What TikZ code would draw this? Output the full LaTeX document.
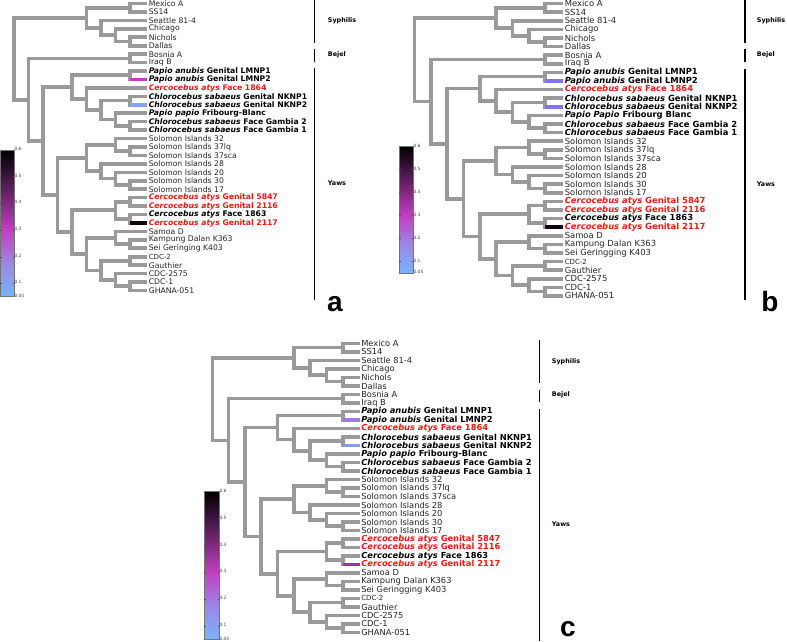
\documentclass[tikz,border=0pt]{standalone}
\usepackage{fontspec}
\setmainfont{DejaVu Sans}
\newfontfamily\letterfont{Liberation Sans}
\usetikzlibrary{calc}

\definecolor{branchgray}{RGB}{154,154,154}
\definecolor{cerred}{RGB}{240,24,24}
\definecolor{cblow}{RGB}{120,180,248}
\definecolor{cblav}{RGB}{155,135,228}
\definecolor{cbmag}{RGB}{192,64,192}
\definecolor{cbdark}{RGB}{96,32,96}

\tikzset{
  branch/.style={draw=branchgray, line width=3.6pt, line join=miter},
  leaf/.style={anchor=west, inner xsep=1.6pt, inner ysep=0pt, font=\fontsize{\lfs}{9}\selectfont},
  nrm/.style={text=black!85},
  mky/.style={font=\fontsize{\lfs}{9}\selectfont\bfseries},
  cer/.style={mky, text=cerred},
  cdcsmall/.style={font=\fontsize{7}{8}\selectfont, text=black!85},
  cladebar/.style={draw=black, line width=1.1pt},
  cladelab/.style={anchor=west, inner sep=0pt, font=\fontsize{6.4}{7}\selectfont\bfseries},
  panellab/.style={inner sep=0pt, font=\letterfont\fontsize{28}{28}\selectfont\bfseries},
  cbtick/.style={draw=black!70, line width=0.4pt},
  cblab/.style={anchor=west, inner sep=0.3pt, font=\fontsize{4.4}{5}\selectfont, text=black!75},
}

\newcommand{\spc}[1]{\textit{#1}}

% one clade: name, level, two children
\newcommand{\clade}[4]{%
  \path ($(\pfx-#3)!0.5!(\pfx-#4)$) coordinate (\pfx-tmp);
  \coordinate (\pfx-#1) at (\pfx-lv#2 |- \pfx-tmp);
  \draw[branch] (\pfx-#1) |- (\pfx-#3);
  \draw[branch] (\pfx-#1) |- (\pfx-#4);
}

% prefix, level-1 x, level step, tip x, first y, y step, three branch colours
\newcommand{\paneltree}[9]{%
  \def\pfx{#1}
  \foreach \h in {1,...,9} \coordinate (\pfx-lv\h) at ({#2-(\h-1)*#3},0);
  \foreach \sty/\lab [count=\i from 0] in {
    nrm/Mexico A, nrm/SS14, nrm/Seattle 81-4, nrm/Chicago, nrm/Nichols, nrm/Dallas,
    nrm/Bosnia A, nrm/Iraq B,
    mky/{\spc{Papio anubis} Genital LMNP1}, mky/{\spc{Papio anubis} Genital LMNP2},
    cer/{\spc{Cercocebus atys} Face 1864},
    mky/{\spc{Chlorocebus sabaeus} Genital NKNP1}, mky/{\spc{Chlorocebus sabaeus} Genital NKNP2},
    mky/\papiolab,
    mky/{\spc{Chlorocebus sabaeus} Face Gambia 2}, mky/{\spc{Chlorocebus sabaeus} Face Gambia 1},
    nrm/Solomon Islands 32, nrm/Solomon Islands 37lq, nrm/Solomon Islands 37sca,
    nrm/Solomon Islands 28, nrm/Solomon Islands 20, nrm/Solomon Islands 30, nrm/Solomon Islands 17,
    cer/{\spc{Cercocebus atys} Genital 5847}, cer/{\spc{Cercocebus atys} Genital 2116},
    mky/{\spc{Cercocebus atys} Face 1863}, cer/{\spc{Cercocebus atys} Genital 2117},
    nrm/Samoa D, nrm/Kampung Dalan K363, nrm/\seilab,
    cdcsmall/CDC-2, nrm/Gauthier, nrm/CDC-2575, nrm/CDC-1, nrm/GHANA-051}
    \node[leaf,\sty] (\pfx-L\i) at (#4,{#5+#6*\i}) {\lab};
  % syphilis and bejel
  \clade{ms}{1}{L0}{L1}
  \clade{nd}{1}{L4}{L5}
  \clade{cnd}{2}{L3}{nd}
  \clade{snd}{3}{L2}{cnd}
  \clade{syp}{4}{ms}{snd}
  \clade{bi}{1}{L6}{L7}
  % monkey strains
  \clade{pa}{1}{L8}{L9}
  \clade{nk}{1}{L11}{L12}
  \clade{gg}{1}{L14}{L15}
  \clade{pg}{2}{L13}{gg}
  \clade{chl}{3}{nk}{pg}
  \clade{c64}{4}{L10}{chl}
  \clade{mon}{5}{pa}{c64}
  % solomon islands
  \clade{s37}{1}{L17}{L18}
  \clade{s32}{2}{L16}{s37}
  \clade{s30}{1}{L21}{L22}
  \clade{s20}{2}{L20}{s30}
  \clade{s28}{3}{L19}{s20}
  \clade{sol}{4}{s32}{s28}
  % cercocebus and the rest
  \clade{ca}{1}{L23}{L24}
  \clade{cb}{1}{L25}{L26}
  \clade{cer}{2}{ca}{cb}
  \clade{ks}{1}{L28}{L29}
  \clade{sam}{2}{L27}{ks}
  \clade{cg}{1}{L30}{L31}
  \clade{c1}{1}{L33}{L34}
  \clade{c25}{2}{L32}{c1}
  \clade{cdc}{3}{cg}{c25}
  \clade{rst}{4}{sam}{cdc}
  \clade{cr}{5}{cer}{rst}
  \clade{low}{6}{sol}{cr}
  \clade{yaw}{7}{mon}{low}
  \clade{by}{8}{bi}{yaw}
  \clade{root}{9}{syp}{by}
  % coloured branches
  \draw[branch, draw=#7] (\pfx-pa |- \pfx-L9) -- (\pfx-L9);
  \draw[branch, draw=#8] (\pfx-nk |- \pfx-L12) -- (\pfx-L12);
  \draw[branch, draw=#9] (\pfx-cb |- \pfx-L26) -- (\pfx-L26);
}

% prefix, left x, top y, bottom y, width
\newcommand{\colbar}[5]{%
  \pgfmathsetmacro\ymid{#4-(0.25/0.55)*(#4-#3)}
  \shade[bottom color=cblow, top color=cbmag, middle color=cblav] (#2,#4) rectangle ({#2+#5},\ymid);
  \shade[bottom color=cbmag, top color=black, middle color=cbdark] (#2,\ymid) rectangle ({#2+#5},#3);
  \draw[black!55, line width=0.5pt] (#2,#3) rectangle ({#2+#5},#4);
  \foreach \v in {0.1,0.2,0.3,0.4,0.5} {
    \pgfmathsetmacro\yv{#4-(\v-0.05)/0.55*(#4-#3)}
    \draw[cbtick] (#2,\yv) -- ++(1.5,0) ({#2+#5},\yv) -- ++(-1.5,0);
  }
  \foreach \v in {0.05,0.1,0.2,0.3,0.4,0.5,0.6} {
    \pgfmathsetmacro\yv{#4-(\v-0.05)/0.55*(#4-#3)-1}
    \node[cblab] (#1-cb\v) at ({#2+#5},\yv) {\v};
  }
}

\begin{document}
\begin{tikzpicture}[x=1pt, y=-1pt]
    \useasboundingbox (0,0) rectangle (787,641);

    % Panel a
    \def\lfs{7.7}
    \def\papiolab{\spc{Papio papio} Fribourg-Blanc}
    \def\seilab{Sei Geringing K403}
    \paneltree{a}{130}{14.5}{147}{3.5}{8.44}{cbmag}{cblow!70!cblav}{black!85!cbdark}
    \colbar{a}{0}{150}{296.7}{14}
    \draw[cladebar] (314.3,0) -- (314.3,43.3);
    \draw[cladebar] (314.3,49.3) -- (314.3,61.7);
    \draw[cladebar] (314.3,68.3) -- (314.3,300);
    \node[cladelab] (a-syph) at (327.7,21) {Syphilis};
    \node[cladelab] (a-bej) at (327.7,54.3) {Bejel};
    \node[cladelab] (a-yaws) at (327.7,183.3) {Yaws};
    \node[panellab] (a-tag) at (335,304) {a};

    % Panel b
    \def\lfs{8.4}
    \def\papiolab{\spc{Papio Papio} Fribourg Blanc}
    \def\seilab{Sei Geringging K403}
    \paneltree{b}{545}{16.3}{563}{3.5}{8.6}{cblav!85!blue}{cblav!85!blue}{black!85!cbdark}
    \colbar{b}{399}{146.5}{273}{14}
    \draw[cladebar] (745,0) -- (745,43.3);
    \draw[cladebar] (745,49.3) -- (745,61.7);
    \draw[cladebar] (745,69.3) -- (745,300);
    \node[cladelab] (b-syph) at (756.7,20.7) {Syphilis};
    \node[cladelab] (b-bej) at (756.7,54.3) {Bejel};
    \node[cladelab] (b-yaws) at (756.7,184) {Yaws};
    \node[panellab] (b-tag) at (770,301) {b};

    % Panel c
    \def\lfs{8.3}
    \def\papiolab{\spc{Papio papio} Fribourg-Blanc}
    \def\seilab{Sei Geringging K403}
    \paneltree{c}{342.7}{16.3}{359.5}{343.4}{8.5}{cblav!80!cbmag}{cblav!60!cblow}{cbmag!60!cbdark}
    \colbar{c}{204.3}{491.7}{639.5}{14.7}
    \draw[cladebar] (539.3,340) -- (539.3,383.2);
    \draw[cladebar] (539.3,389.5) -- (539.3,401.7);
    \draw[cladebar] (539.3,409.3) -- (539.3,641);
    \node[cladelab] (c-syph) at (551.7,361.5) {Syphilis};
    \node[cladelab] (c-bej) at (551.7,394.7) {Bejel};
    \node[cladelab] (c-yaws) at (551.7,524) {Yaws};
    \node[panellab] (c-tag) at (568,629) {c};
\end{tikzpicture}
\end{document}
